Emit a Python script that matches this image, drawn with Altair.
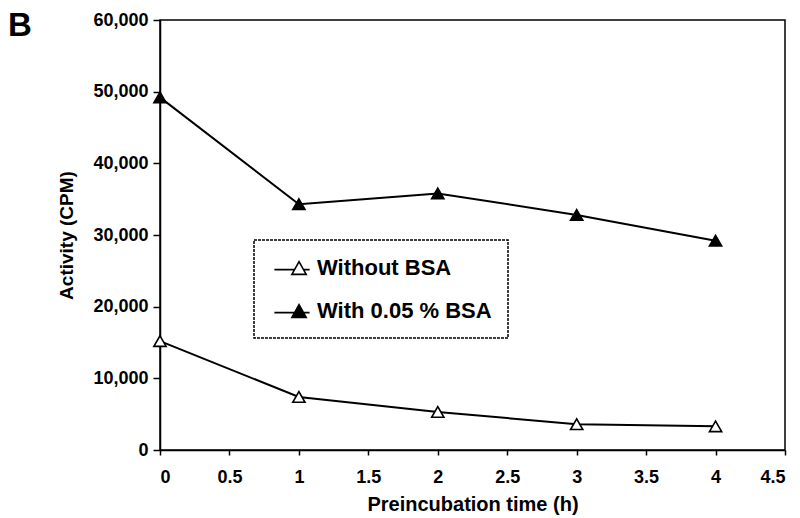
import altair as alt
import pandas as pd

times = [0, 1, 2, 3, 4]
without_bsa = [15200, 7400, 5300, 3600, 3300]
with_bsa = [49200, 34300, 35800, 32800, 29200]
series_names = ["Without BSA", "With 0.05 % BSA"]
x_ticks = [0, 0.5, 1, 1.5, 2, 2.5, 3, 3.5, 4, 4.5]
y_ticks = [0, 10000, 20000, 30000, 40000, 50000, 60000]

rows = []
for t, v in zip(times, without_bsa):
    rows.append({"time": t, "cpm": v, "series": series_names[0]})
for t, v in zip(times, with_bsa):
    rows.append({"time": t, "cpm": v, "series": series_names[1]})
df = pd.DataFrame(rows)

FONT = "Liberation Sans"

x_enc = alt.X("time:Q", scale=alt.Scale(domain=[0, 4.5], nice=False, zero=True),
              axis=alt.Axis(values=x_ticks, format="~g", title="Preincubation time (h)",
                            grid=False, tickSize=5, labelPadding=13, titlePadding=8,
                            titleFontSize=20))
y_enc = alt.Y("cpm:Q", scale=alt.Scale(domain=[0, 60000], nice=False),
              axis=alt.Axis(values=y_ticks, format=",.0f", title="Activity (CPM)",
                            grid=False, tickSize=7, labelPadding=5, titlePadding=16,
                            titleFontSize=19))

lines = alt.Chart(df).mark_line(color="black", strokeWidth=2).encode(
    x=x_enc, y=y_enc, detail="series:N"
)

legend_symbol = "M-1.6,0.15H0.23M1.05,0.15H1.6M0.64,-0.58L1.29,0.58L-0.01,0.58Z"

points = alt.Chart(df).mark_point(shape="triangle-up", size=150, stroke="black",
                                  strokeWidth=1.6, opacity=1, filled=False).encode(
    x="time:Q", y="cpm:Q",
    fill=alt.Fill("series:N", scale=alt.Scale(domain=series_names, range=["white", "black"]),
                  legend=alt.Legend(title=None, orient="none", legendX=94, legendY=220,
                                    symbolType=legend_symbol,
                                    symbolSize=484, symbolStrokeColor="black", symbolStrokeWidth=1.6,
                                    symbolOffset=10, labelOffset=13, labelFontSize=22,
                                    labelFont=FONT, labelFontWeight="bold", labelColor="black",
                                    padding=16, rowPadding=20,
                                    strokeColor="black", fillColor="white",
                                    labelLimit=400))
)

chart = alt.layer(lines, points).properties(
    width=625, height=430,
    title=alt.TitleParams("B", anchor="start", frame="group", dx=-152, dy=32, offset=0,
                          fontSize=33, font=FONT, fontWeight="bold", color="black"),
    autosize=alt.AutoSizeParams(type="none"),
    padding={"left": 160, "top": 20, "right": 15, "bottom": 68},
).configure_view(stroke="black", strokeWidth=1.5).configure_axis(
    domainColor="black", domainWidth=1.5, tickColor="black", tickWidth=1.5,
    labelFont=FONT, labelFontSize=18, labelFontWeight="bold", labelColor="black",
    titleFont=FONT, titleFontWeight="bold", titleColor="black",
).configure_legend(strokeDash=[3, 1], strokeWidth=1.5)

chart.save("out.html", embed_options={"renderer": "svg", "actions": False})
